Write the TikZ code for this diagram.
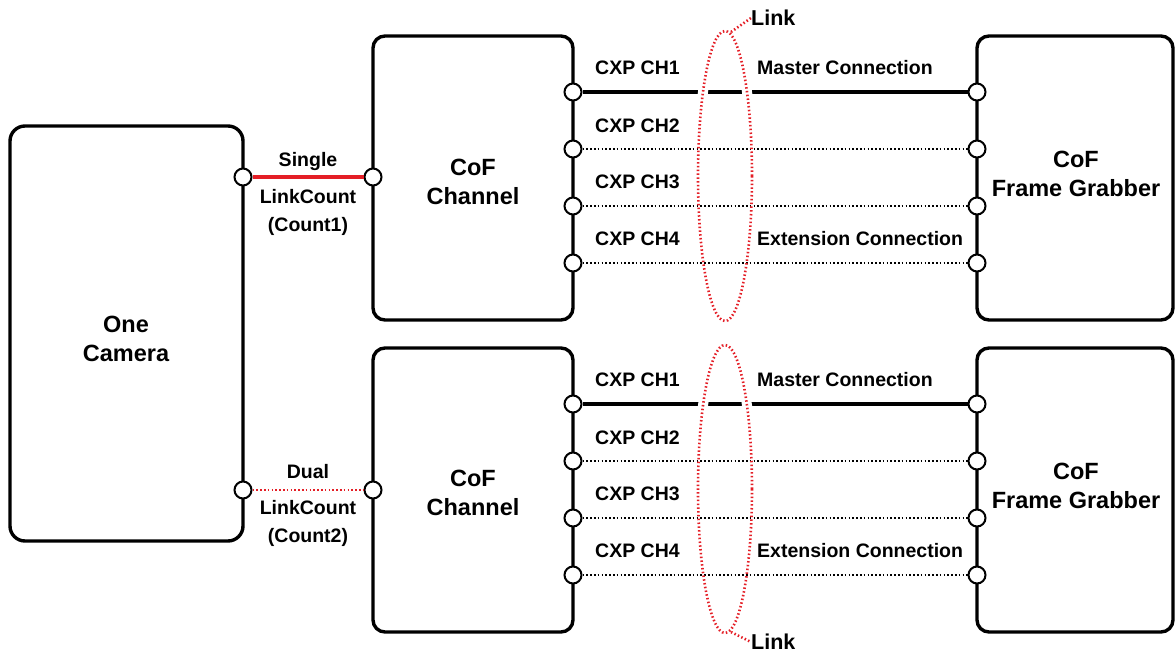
\documentclass[tikz,border=0pt]{standalone}
\usepackage{fontspec}
\setmainfont{Liberation Sans}
\begin{document}
\begin{tikzpicture}[x=1pt,y=-1pt,
  box/.style={draw=black,line width=3.4pt,rounded corners=12pt,fill=white},
  port/.style={circle,draw=black,line width=2pt,fill=white,minimum size=17pt,inner sep=0pt},
  big/.style={font=\fontsize{23.5}{28.5}\selectfont\bfseries,align=center},
  small/.style={font=\fontsize{19.5}{23}\selectfont\bfseries,inner sep=0pt},
  solidcon/.style={draw=black,line width=3.2pt},
  dotcon/.style={draw=black,line width=2.6pt,dash pattern=on 1.6pt off 2.2pt},
  redsolid/.style={draw=linkred,line width=3.2pt},
  reddot/.style={draw=linkred,line width=2.6pt,dash pattern=on 1.6pt off 2.2pt},
  linkell/.style={draw=linkred,line width=2.6pt,dash pattern=on 1.5pt off 2.3pt}
]
\definecolor{linkred}{RGB}{228,30,38}
\useasboundingbox (0,0) rectangle (1176,656);

% boxes
\draw[box,rounded corners=15pt] (10,126) rectangle (243,541);
\node[big] (cam) at (126,339) {One\\Camera};

\foreach \k/\dy in {t/0,b/312}{
  \draw[box] (373,36+\dy) rectangle (573,320+\dy);
  \draw[box] (977,36+\dy) rectangle (1173,320+\dy);
}
\node[big] (cht) at (473,182) {CoF\\Channel};
\node[big] (chb) at (473,493) {CoF\\Channel};
\node[big] (fgt) at (1076,174) {CoF\\Frame Grabber};
\node[big] (fgb) at (1076,486) {CoF\\Frame Grabber};

% ports
\node[port] (c1) at (243,177) {};
\node[port] (c2) at (243,490) {};
\node[port] (i1) at (373,177) {};
\node[port] (i2) at (373,490) {};
\foreach \k/\dy in {t/0,b/312}{
  \foreach \n/\yy in {1/92,2/149,3/206,4/263}{
    \node[port] (o\k\n) at (573,\yy+\dy) {};
    \node[port] (f\k\n) at (977,\yy+\dy) {};
  }
}

% camera links
\draw[redsolid] (c1) -- (i1);
\draw[reddot] (c2) -- (i2);
\node[small] (s1) at (308,161) {Single};
\node[small] (s2) at (308,197) {LinkCount};
\node[small] (s3) at (308,226) {(Count1)};
\node[small] (d1) at (308,472) {Dual};
\node[small] (d2) at (308,508) {LinkCount};
\node[small] (d3) at (308,537) {(Count2)};

% channel connections
\foreach \k/\dy in {t/0,b/312}{
  \draw[solidcon] (o\k1) -- (f\k1);
  \draw[dotcon] (o\k2) -- (f\k2);
  \draw[dotcon] (o\k3) -- (f\k3);
  \draw[dotcon] (o\k4) -- (f\k4);
  \node[small,anchor=west] (cx\k1) at (595,68+\dy) {CXP CH1};
  \node[small,anchor=west] (cx\k2) at (595,126+\dy) {CXP CH2};
  \node[small,anchor=west] (cx\k3) at (595,182+\dy) {CXP CH3};
  \node[small,anchor=west] (cx\k4) at (595,239+\dy) {CXP CH4};
  \node[small,anchor=west] (mc\k) at (757,68+\dy) {Master Connection};
  \node[small,anchor=west] (ec\k) at (757,239+\dy) {Extension Connection};
}

% gaps in master lines where the link ellipses cross
\begin{scope}
  \clip (600,86) rectangle (800,98);
  \draw[white,line width=10pt] (725,176) ellipse [x radius=27,y radius=145];
\end{scope}
\begin{scope}
  \clip (600,398) rectangle (800,410);
  \draw[white,line width=10pt] (725,489) ellipse [x radius=27,y radius=144];
\end{scope}

% link ellipses
\draw[linkell] (725,176) ellipse [x radius=27,y radius=145];
\draw[linkell] (725,489) ellipse [x radius=27,y radius=144];
\node[font=\fontsize{21.5}{24}\selectfont\bfseries,anchor=west,inner sep=0pt] (lt) at (751,18) {Link};
\node[font=\fontsize{21.5}{24}\selectfont\bfseries,anchor=west,inner sep=0pt] (lb) at (751,642) {Link};
\coordinate (et) at (731,32);
\coordinate (eb) at (731,632);
\draw[linkell] (et) -- (lt.west);
\draw[linkell] (eb) -- (lb.west);
\end{tikzpicture}
\end{document}
